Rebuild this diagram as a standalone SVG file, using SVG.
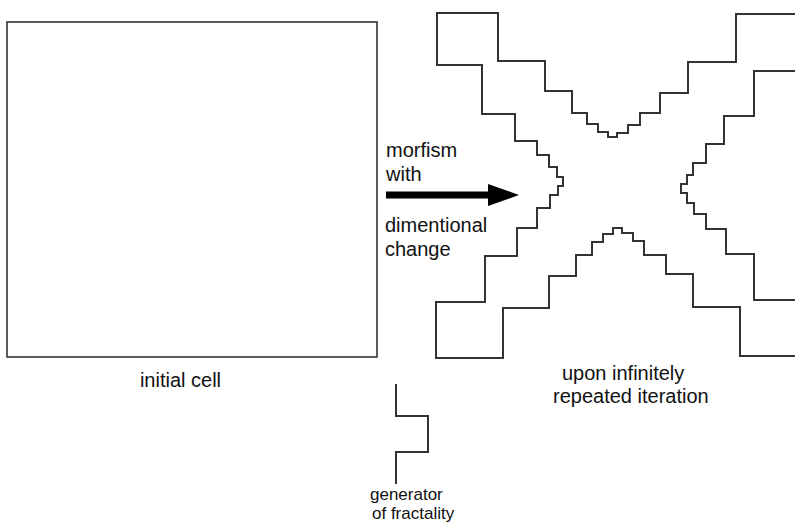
<svg xmlns="http://www.w3.org/2000/svg" width="795" height="523" viewBox="0 0 795 523">
<style>
.ln{fill:none;stroke:#333;stroke-width:2;stroke-linejoin:miter;stroke-linecap:square}
.sq{fill:none;stroke:#333;stroke-width:1.6}
.t{font-family:"Liberation Sans",Arial,Helvetica,sans-serif;font-size:20px;fill:#111}
.s{font-family:"Liberation Sans",Arial,Helvetica,sans-serif;font-size:17px;fill:#111}
</style>
<defs>
<marker id="ah" markerUnits="userSpaceOnUse" markerWidth="31" markerHeight="22" refX="0" refY="11" orient="auto">
<path d="M0,0 L31,11 L0,22 Z" fill="#000"/>
</marker>
</defs>
<rect width="795" height="523" fill="#fff"/>
<g id="initial-cell">
<rect class="sq" x="7" y="22" width="370" height="335"/>
<text class="t" x="180.5" y="387" text-anchor="middle">initial cell</text>
</g>
<g id="fractal">
<path class="ln" d="M437,65 L437,13 L498,13 L498,61 L545,61 L545,91 L572,91 L572,113 L587,113 L587,124 L598,124 L598,132 L608,132 L608,137 L617,137 L617,133 L628,133 L628,125 L640,125 L640,113 L660,113 L660,93 L688,93 L688,62 L736,62 L736,14 L796,14"/>
<path class="ln" d="M437,65 L482,65 L482,114 L515,114 L515,141 L537,141 L537,155 L549,155 L549,167 L557,167 L557,177 L563,177 L563,186 L558,186 L558,195 L550,195 L550,208 L537,208 L537,228 L517,228 L517,256 L485,256 L485,302 L436,302 L436,358 L503,358 L503,308 L549,308 L549,276 L576,276 L576,255 L592,255 L592,242 L603,242 L603,234 L613,234 L613,228 L622,228 L622,233 L633,233 L633,241 L644,241 L644,255 L666,255 L666,274 L693,274 L693,307 L740,307 L740,356 L796,356"/>
<path class="ln" d="M796,71 L754,71 L754,116 L724,116 L724,144 L706,144 L706,163 L693,163 L693,175 L687,175 L687,184 L681,184 L681,193 L687,193 L687,203 L694,203 L694,214 L706,214 L706,229 L726,229 L726,254 L754,254 L754,300 L796,300"/>
<text class="t" x="562" y="380">upon infinitely</text>
<text class="t" x="553" y="403">repeated iteration</text>
</g>
<g id="generator">
<path class="ln" d="M396,385 L396,416 L428,416 L428,452 L396,452 L396,483"/>
<text class="s" x="370" y="500">generator</text>
<text class="s" x="372" y="519">of fractality</text>
</g>
<g id="connectors">
<line x1="386" y1="195" x2="488" y2="195" stroke="#000" stroke-width="7" marker-end="url(#ah)"/>
<text class="t" x="386" y="157">morfism</text>
<text class="t" x="386" y="181">with</text>
<text class="t" x="385" y="232">dimentional</text>
<text class="t" x="385" y="256">change</text>
</g>
</svg>
